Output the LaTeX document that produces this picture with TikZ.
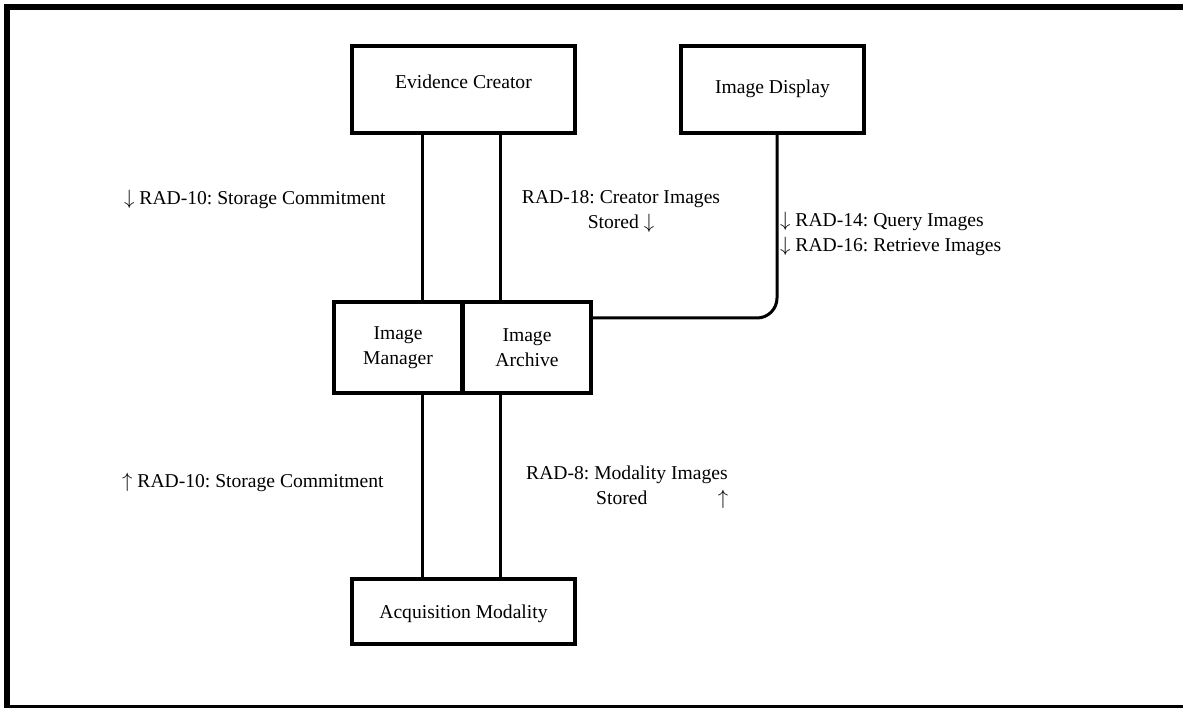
\documentclass[tikz,border=0pt]{standalone}
\usepackage{fontspec}
\setmainfont{Liberation Serif}
\frenchspacing
\newcommand{\dnarr}{$\downarrow$}
\newcommand{\uparr}{$\uparrow$}
\begin{document}
\begin{tikzpicture}[x=1pt,y=-1pt,
  every node/.style={font=\fontsize{19.6pt}{25pt}\selectfont, inner sep=0pt},
  box/.style={draw=black, line width=4pt, fill=white, text height=13pt, align=center},
  conn/.style={draw=black, line width=3pt},
  lbl/.style={anchor=base west},
  frame/.style={draw=black, line width=6pt}]
\useasboundingbox (0,0) rectangle (1183,708);
\clip (0,0) rectangle (1183,708);
\fill[white] (0,0) rectangle (1183,708);
\draw[frame] (7,7) rectangle (1192,708);

% boxes
\node[box, minimum width=223pt, minimum height=87pt, text depth=15pt] (ec) at (463.5,89.5) {Evidence Creator};
\node[box, minimum width=183pt, minimum height=87pt, text depth=5pt] (id) at (772.5,89.5) {Image Display};
\node[box, minimum width=128pt, minimum height=91pt, text height=, text depth=] (mgr) at (398,347.5) {Image\\Manager};
\node[box, minimum width=128pt, minimum height=91pt, text height=, text depth=] (arc) at (527,347.5) {Image\\Archive};
\node[box, minimum width=223pt, minimum height=65pt, text depth=0pt] (acq) at (463.5,611.5) {Acquisition Modality};

% connectors
\draw[conn] ([xshift=-41pt]ec.south) -- ([xshift=-41pt]ec.south |- mgr.north);
\draw[conn] ([xshift=37pt]ec.south) -- ([xshift=37pt]ec.south |- arc.north);
\draw[conn] ([xshift=-41pt]acq.north) -- ([xshift=-41pt]acq.north |- mgr.south);
\draw[conn] ([xshift=37pt]acq.north) -- ([xshift=37pt]acq.north |- arc.south);
\draw[conn, rounded corners=20pt] ([xshift=4.5pt]id.south) |- ([yshift=29.5pt]arc.east);

% labels
\node[lbl] (l1) at (124,205) {\dnarr\ RAD-10: Storage Commitment};
\node[anchor=base, align=center] (l2) at (621,229) {RAD-18: Creator Images\\Stored \dnarr};
\node[lbl, align=left] (l3) at (780,252) {\dnarr\ RAD-14: Query Images\\\dnarr\ RAD-16: Retrieve Images};
\node[lbl] (l4) at (122,487) {\uparr\ RAD-10: Storage Commitment};
\node[lbl, align=left] (l5) at (526,504) {RAD-8: Modality Images\\\makebox[202pt][l]{\hspace*{70pt}Stored\hfill\uparr}};
\end{tikzpicture}
\end{document}
